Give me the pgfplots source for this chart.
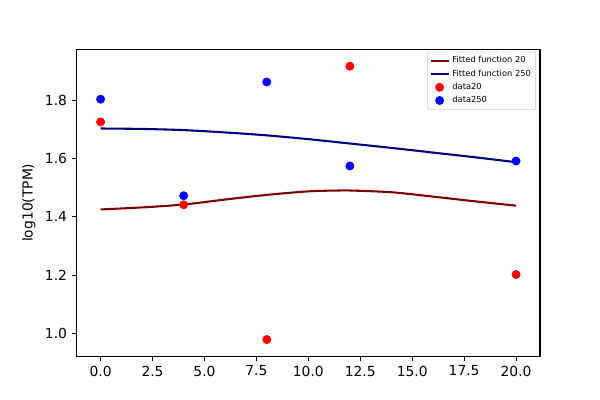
\documentclass[border=0pt]{standalone}
\usepackage{pgfplots}
\pgfplotsset{compat=1.18}
\usepackage{fontspec}
\setmainfont{DejaVu Sans}
\definecolor{fit20}{HTML}{800000}
\definecolor{fit250}{HTML}{000080}
\pgfplotsset{
  linelegend/.style={legend image code/.code={\draw[##1] (0pt,0pt) -- (13pt,0pt);}},
  marklegend/.style={legend image code/.code={\draw[mark repeat=2,mark phase=2,##1] plot coordinates {(0pt,0pt) (6.5pt,0pt) (13pt,0pt)};}},
}
\begin{document}
\begin{tikzpicture}
\begin{axis}[
  at={(0,0)}, anchor=south west,
  scale only axis, width=334.8pt, height=221.76pt,
  xmin=-1.15, xmax=21.15, ymin=0.922, ymax=1.974,
  xtick={0,2.5,5,7.5,10,12.5,15,17.5,20},
  ytick={1.0,1.2,1.4,1.6,1.8},
  /pgf/number format/assume math mode=true,
  xticklabel style={/pgf/number format/.cd,fixed,fixed zerofill,precision=1},
  yticklabel style={/pgf/number format/.cd,fixed,fixed zerofill,precision=1},
  tick label style={font=\fontsize{10}{12}\selectfont},
  tick align=outside, major tick length=3.5pt,
  tick style={black, line width=0.8pt},
  xtick pos=bottom, ytick pos=left,
  axis line style={line width=0.8pt},
  ylabel={log10(TPM)},
  ylabel style={font=\fontsize{10}{12}\selectfont},
  legend style={font=\fontsize{6}{7}\selectfont, at={(1,1)}, anchor=north east,
    xshift=-2.9pt, yshift=-1.6pt, draw={black!20}, rounded corners=1pt,
    row sep=-0.5pt, inner sep=1.5pt},
  legend cell align=left,
]
\addplot[fit20, line width=1.5pt, smooth, linelegend] coordinates {
 (0,1.425) (2,1.432) (4,1.442) (6,1.459) (8,1.475) (10,1.487) (11.5,1.490) (12,1.490) (14,1.484) (16,1.469) (18,1.453) (20,1.438)};
\addlegendentry{Fitted function 20}
\addplot[fit250, line width=1.5pt, smooth, linelegend] coordinates {
 (0,1.7025) (2,1.701) (4,1.697) (6,1.689) (8,1.679) (10,1.666) (12,1.651) (14,1.636) (16,1.620) (18,1.604) (20,1.587)};
\addlegendentry{Fitted function 250}
\addplot[only marks, mark=*, mark size=3pt, color=red, marklegend] coordinates {
 (0,1.725) (4,1.441) (8,0.979) (12,1.916) (20,1.202)};
\addlegendentry{data20}
\addplot[only marks, mark=*, mark size=3pt, color=blue, marklegend] coordinates {
 (0,1.803) (4,1.472) (8,1.862) (12,1.574) (20,1.591)};
\addlegendentry{data250}
\end{axis}
\path (-55.44pt,-31.68pt) rectangle (378.18pt,257.4pt);
\end{tikzpicture}
\end{document}
